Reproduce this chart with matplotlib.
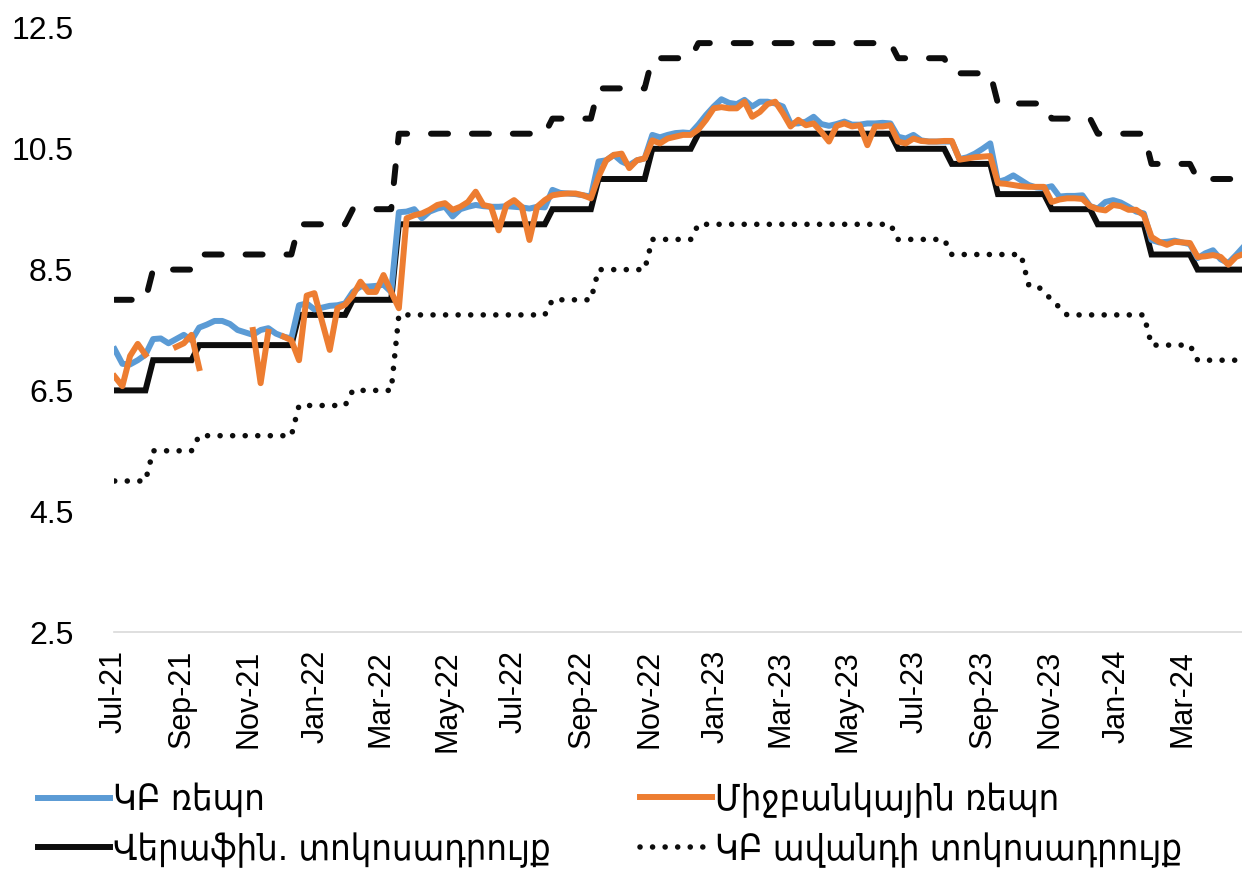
import numpy as np
import pandas as pd
import matplotlib
matplotlib.use("Agg")
import matplotlib.pyplot as plt
import matplotlib.dates as mdates
from matplotlib.lines import Line2D
from matplotlib.font_manager import FontProperties
from datetime import datetime

# ---------------- data (weekly, Fridays) ----------------
start_date = "2021-07-02"
n_weeks = 148

nan = np.nan
cb_repo = [7.18, 6.94, 6.93, 7.00, 7.09, 7.35, 7.36, 7.28, 7.35, 7.42,
           7.33, 7.54, 7.59, 7.65, 7.65, 7.60, 7.50, 7.46, 7.42, 7.50,
           7.53, 7.44, 7.39, 7.36, 7.91, 7.94, 7.84, 7.87, 7.90, 7.91,
           7.94, 8.13, 8.22, 8.22, 8.23, 8.25, 8.13, 9.45, 9.46, 9.50,
           9.35, 9.46, 9.51, 9.54, 9.38, 9.50, 9.54, 9.57, 9.55, 9.54,
           9.54, 9.55, 9.54, 9.53, 9.51, 9.54, 9.53, 9.82, 9.77, 9.76,
           9.75, 9.73, 9.71, 10.29, 10.31, 10.40, 10.29, 10.23, 10.31, 10.34,
           10.73, 10.69, 10.73, 10.76, 10.77, 10.76, 10.90, 11.06, 11.20, 11.32,
           11.26, 11.24, 11.31, 11.20, 11.28, 11.28, 11.25, 11.20, 10.92, 10.92,
           10.95, 11.03, 10.91, 10.88, 10.91, 10.95, 10.90, 10.90, 10.92, 10.92,
           10.93, 10.92, 10.70, 10.67, 10.73, 10.64, 10.62, 10.62, 10.62, 10.62,
           10.33, 10.36, 10.42, 10.50, 10.59, 9.95, 9.99, 10.06, 9.98, 9.90,
           9.86, 9.85, 9.88, 9.71, 9.72, 9.72, 9.73, 9.55, 9.51, 9.62,
           9.65, 9.61, 9.54, 9.46, 9.43, 8.99, 8.95, 8.96, 8.98, 8.95,
           8.92, 8.69, 8.77, 8.82, 8.67, 8.61, 8.74, 8.88]

interbank_repo = [6.73, 6.57, 7.07, 7.27, 7.09, nan, nan, nan, 7.22, 7.28,
                  7.42, 6.87, nan, nan, nan, nan, nan, nan, 7.50, 6.62,
                  7.47, nan, 7.39, 7.33, 7.00, 8.07, 8.11, 7.64, 7.17, 7.86,
                  7.92, 8.07, 8.30, 8.13, 8.13, 8.41, 8.13, 7.86, 9.35, 9.40,
                  9.43, 9.49, 9.57, 9.60, 9.49, 9.54, 9.62, 9.79, 9.57, 9.54,
                  9.15, 9.57, 9.65, 9.54, 8.99, 9.54, 9.65, 9.73, 9.75, 9.76,
                  9.76, 9.73, 9.68, 10.04, 10.31, 10.40, 10.42, 10.18, 10.31, 10.34,
                  10.64, 10.59, 10.67, 10.70, 10.73, 10.73, 10.82, 10.98, 11.17, 11.19,
                  11.17, 11.17, 11.28, 11.03, 11.11, 11.24, 11.28, 11.09, 10.87, 10.98,
                  10.89, 10.92, 10.78, 10.62, 10.88, 10.92, 10.87, 10.89, 10.56, 10.87,
                  10.87, 10.89, 10.62, 10.59, 10.67, 10.63, 10.62, 10.62, 10.63, 10.63,
                  10.32, 10.34, 10.36, 10.37, 10.38, 9.93, 9.92, 9.90, 9.88, 9.87,
                  9.87, 9.87, 9.62, 9.66, 9.68, 9.68, 9.67, 9.55, 9.50, 9.48,
                  9.57, 9.55, 9.49, 9.49, 9.40, 9.04, 8.96, 8.91, 8.96, 8.95,
                  8.94, 8.71, 8.72, 8.74, 8.71, 8.58, 8.71, 8.76]

refi_rate = ([6.5] * 5 + [7.0] * 6 + [7.25] * 13 + [7.75] * 7 + [8.0] * 6 +
             [9.25] * 20 + [9.5] * 6 + [10.0] * 7 + [10.5] * 6 + [10.75] * 26 +
             [10.5] * 7 + [10.25] * 6 + [9.75] * 7 + [9.5] * 6 + [9.25] * 7 +
             [8.75] * 6 + [8.5] * 7)

lombard_rate = ([8.0] * 5 + [8.5] * 6 + [8.75] * 13 + [9.25] * 7 + [9.5] * 6 +
                [10.75] * 20 + [11.0] * 6 + [11.5] * 7 + [12.0] * 6 + [12.25] * 26 +
                [12.0] * 7 + [11.75] * 6 + [11.25] * 7 + [11.0] * 6 + [10.75] * 7 +
                [10.25] * 6 + [10.0] * 7)

deposit_rate = ([5.0] * 5 + [5.5] * 6 + [5.75] * 13 + [6.25] * 7 + [6.5] * 6 +
                [7.75] * 20 + [8.0] * 6 + [8.5] * 7 + [9.0] * 6 + [9.25] * 26 +
                [9.0] * 7 + [8.75] * 10 + [8.25] * 2 + [8.125] + [8.0] + [7.875] +
                [7.75] * 11 + [7.25] * 6 + [7.0] * 7)

labels = ["ԿԲ ռեպո", "Միջբանկային ռեպո", "Վերաֆին. տոկոսադրույք", "ԿԲ ավանդի տոկոսադրույք"]
y_ticks = [2.5, 4.5, 6.5, 8.5, 10.5, 12.5]

dates = pd.date_range(start_date, periods=n_weeks, freq="7D")

# ---------------- styling ----------------
BLUE = "#5B9BD5"
ORANGE = "#ED7D31"
BLACK = "#0D0D0D"
LW = 4.3
DOT_LW = 4.0
DOTS = (0, (0.01, 2.25))
DASHES = (0, (2.85, 4.0))

W, H = 1242, 872
fig = plt.figure(figsize=(W / 100, H / 100), dpi=100)
left_px, right_px, top_px, bottom_px = 113.6, 1243.7, 28, 632
ax = fig.add_axes([left_px / W, (H - bottom_px) / H,
                   (right_px - left_px) / W, (bottom_px - top_px) / H])

ax.plot(dates, lombard_rate, color=BLACK, lw=LW, linestyle=DASHES,
        dash_capstyle="round", dash_joinstyle="round", zorder=2)
ax.plot(dates, deposit_rate, color=BLACK, lw=DOT_LW, linestyle=DOTS,
        dash_capstyle="round", zorder=2)
ax.plot(dates, refi_rate, color=BLACK, lw=LW, solid_joinstyle="miter", zorder=3)
ax.plot(dates, cb_repo, color=BLUE, lw=LW, solid_joinstyle="round", zorder=4)
ax.plot(dates, interbank_repo, color=ORANGE, lw=LW, solid_joinstyle="round", zorder=5)

ax.set_ylim(2.5, 12.5)
ax.set_xlim(datetime(2021, 7, 1), dates[-1])
ax.set_yticks(y_ticks)
ax.set_yticklabels([f"{v:.1f}" for v in y_ticks])

ax.xaxis.set_major_locator(mdates.MonthLocator(bymonth=[1, 3, 5, 7, 9, 11]))
ax.xaxis.set_major_formatter(mdates.DateFormatter("%b-%y"))

tick_font = "Liberation Sans"
for lab in ax.get_xticklabels():
    lab.set_rotation(90)
    lab.set_ha("center")
    lab.set_va("top")
ax.tick_params(axis="x", length=0, pad=13, labelsize=22, labelfontfamily=tick_font)
ax.tick_params(axis="y", length=0, pad=29, labelsize=23, labelfontfamily=tick_font)

for s in ["left", "right", "top"]:
    ax.spines[s].set_visible(False)
ax.spines["bottom"].set_color("#D9D9D9")
ax.spines["bottom"].set_linewidth(1.2)
ax.spines["bottom"].set_zorder(1)

# ---------------- legend ----------------
leg_font = FontProperties(family="DejaVu Sans", stretch="condensed", size=26)
handles = [
    Line2D([], [], color=BLUE, lw=LW),
    Line2D([], [], color=ORANGE, lw=LW),
    Line2D([], [], color=BLACK, lw=LW),
    Line2D([], [], color=BLACK, lw=DOT_LW, linestyle=DOTS, dash_capstyle="round"),
]
positions = [(38, 800), (640, 800), (38, 850), (640, 850)]
fs_px = 26 * 100 / 72
for h, lab, (px, py) in zip(handles, labels, positions):
    fig.legend([h], [lab], loc="center left", bbox_to_anchor=(px / W, (H - py) / H),
               frameon=False, prop=leg_font, handlelength=72 / fs_px,
               handletextpad=0.08, borderpad=0, borderaxespad=0)

fig.savefig("out.png", dpi=100)
